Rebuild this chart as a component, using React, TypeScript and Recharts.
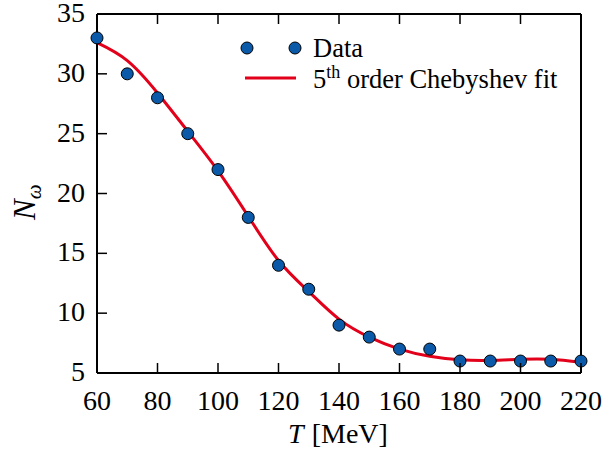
import { ComposedChart, Line, Scatter, XAxis, YAxis } from "recharts";

// Multiplicity vs. temperature, one row per 10 MeV
const temps = [60, 70, 80, 90, 100, 110, 120, 130, 140, 150, 160, 170, 180, 190, 200, 210, 220];
const nOmega = [33, 30, 28, 25, 22, 18, 14, 12, 9, 8, 7, 7, 6, 6, 6, 6, 6];
const chebFit = [32.6, 31.1, 28.4, 25.2, 21.9, 18.1, 14.4, 11.8, 9.5, 8.0, 7.0, 6.4, 6.1, 6.05, 6.15, 6.15, 5.9];

const xTicks = [60, 80, 100, 120, 140, 160, 180, 200, 220];
const yTicks = [5, 10, 15, 20, 25, 30, 35];

const rows = temps.map((t, i) => ({ t, n: nOmega[i], fit: chebFit[i] }));

const FONT = "Liberation Serif";
const BLUE = "#0b5aa9";
const RED = "#e2001a";
const TICK_LEN = 10;

const BottomTick = ({ x, y, payload }: any) => (
  <g>
    <line x1={x} x2={x} y1={y} y2={y - TICK_LEN} stroke="#000" strokeWidth={1.5} />
    <text x={x} y={y + 37} textAnchor="middle" style={{ fontFamily: FONT, fontSize: 28 }} fill="#000">
      {payload.value}
    </text>
  </g>
);

const TopTick = ({ x, y }: any) => (
  <line x1={x} x2={x} y1={y} y2={y + TICK_LEN} stroke="#000" strokeWidth={1.5} />
);

const LeftTick = ({ x, y, payload }: any) => (
  <g>
    <line x1={x} x2={x + TICK_LEN} y1={y} y2={y} stroke="#000" strokeWidth={1.5} />
    <text x={x - 12} y={y + 8} textAnchor="end" style={{ fontFamily: FONT, fontSize: 28 }} fill="#000">
      {payload.value}
    </text>
  </g>
);

const RightTick = ({ x, y }: any) => (
  <line x1={x} x2={x - TICK_LEN} y1={y} y2={y} stroke="#000" strokeWidth={1.5} />
);

const axisLine = { stroke: "#000", strokeWidth: 2 };

export default function App() {
  return (
    <div style={{ position: "absolute", left: 0, top: 0, width: 604, height: 460, background: "#fff" }}>
      <ComposedChart
        width={604}
        height={460}
        data={rows}
        margin={{ top: 4, right: 3, bottom: 47, left: 37 }}
      >
        <XAxis
          xAxisId="b"
          type="number"
          dataKey="t"
          domain={[60, 220]}
          ticks={xTicks}
          interval={0}
          height={40}
          tickSize={0}
          tickMargin={0}
          axisLine={axisLine}
          tick={<BottomTick />}
        />
        <XAxis
          xAxisId="t"
          orientation="top"
          type="number"
          dataKey="t"
          domain={[60, 220]}
          ticks={xTicks}
          interval={0}
          height={10}
          tickSize={0}
          tickMargin={0}
          axisLine={axisLine}
          tick={<TopTick />}
        />
        <YAxis
          yAxisId="l"
          type="number"
          domain={[5, 35]}
          ticks={yTicks}
          interval={0}
          width={60}
          tickSize={0}
          tickMargin={0}
          axisLine={axisLine}
          tick={<LeftTick />}
        />
        <YAxis
          yAxisId="r"
          orientation="right"
          type="number"
          domain={[5, 35]}
          ticks={yTicks}
          interval={0}
          width={20}
          tickSize={0}
          tickMargin={0}
          axisLine={axisLine}
          tick={<RightTick />}
        />
        <Scatter
          xAxisId="b"
          yAxisId="l"
          dataKey="n"
          fill={BLUE}
          shape={(p: any) => <circle cx={p.cx} cy={p.cy} r={6} fill={BLUE} stroke="#000" strokeWidth={1} />}
          isAnimationActive={false}
        />
        <Line
          xAxisId="b"
          yAxisId="l"
          type="natural"
          dataKey="fit"
          stroke={RED}
          strokeWidth={3}
          dot={false}
          activeDot={false}
          isAnimationActive={false}
        />
      </ComposedChart>
      {/* legend and axis titles */}
      <svg
        width={604}
        height={460}
        style={{ position: "absolute", left: 0, top: 0, pointerEvents: "none" }}
      >
        <g fill="#000">
          <circle cx={247} cy={48} r={6} fill={BLUE} stroke="#000" strokeWidth={1} />
          <circle cx={295} cy={48} r={6} fill={BLUE} stroke="#000" strokeWidth={1} />
          <text x={313} y={57} style={{ fontFamily: FONT, fontSize: 26.5 }}>Data</text>
          <line x1={245} x2={296} y1={78} y2={78} stroke={RED} strokeWidth={3} />
          <text x={313} y={88} style={{ fontFamily: FONT, fontSize: 26.5 }}>
            5<tspan style={{ fontSize: 18 }} dy={-10}>th</tspan>
            <tspan dy={10}> order Chebyshev fit</tspan>
          </text>
          <text transform="translate(35,220) rotate(-90)" style={{ fontFamily: FONT, fontSize: 31 }}>
            <tspan fontStyle="italic">N</tspan>
            <tspan fontStyle="italic" style={{ fontSize: 21 }} dy={6}>ω</tspan>
          </text>
          <text x={338} y={443} textAnchor="middle" style={{ fontFamily: FONT, fontSize: 28 }}>
            <tspan fontStyle="italic">T</tspan>
            <tspan dx={8}>[MeV]</tspan>
          </text>
        </g>
      </svg>
    </div>
  );
}
